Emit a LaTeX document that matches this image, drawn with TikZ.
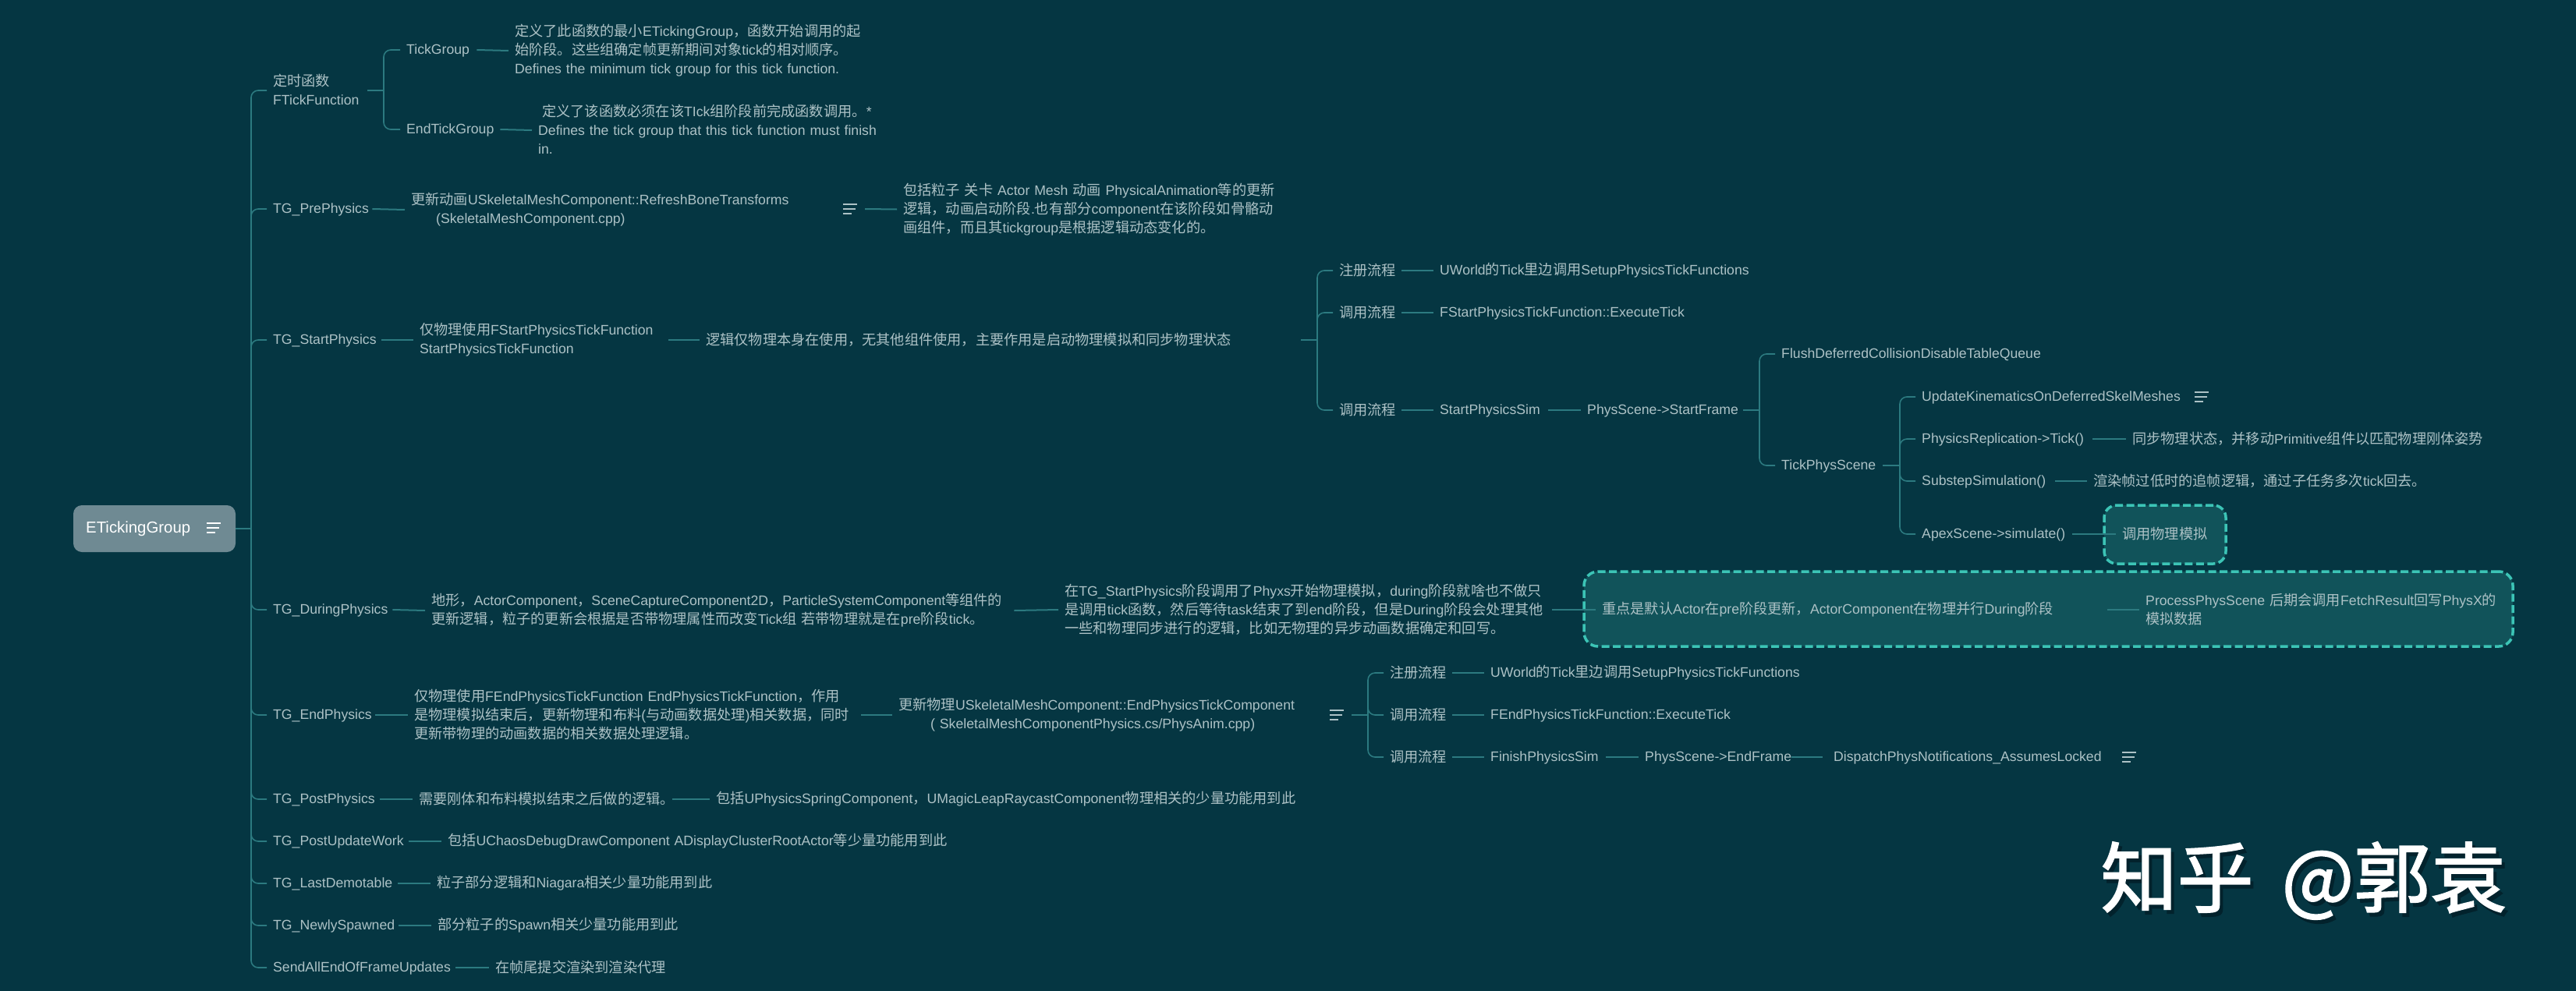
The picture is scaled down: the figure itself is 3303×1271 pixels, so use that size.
\documentclass[tikz,border=0pt]{standalone}
\usepackage{fontspec}
\setmainfont{Liberation Sans}[Scale=0.97]
\newfontfamily\cjkf{Noto Sans CJK SC}
\newfontfamily\latf{Liberation Sans}[Scale=0.97]
\newfontfamily\wmf{Noto Sans CJK SC}[FakeBold=1.8]
\newXeTeXintercharclass\cjkcls
\count255="4E00
\loop\XeTeXcharclass\count255=\cjkcls\ifnum\count255<"9FFF\advance\count255 by 1\repeat
\count255="3000
\loop\XeTeXcharclass\count255=\cjkcls\ifnum\count255<"303F\advance\count255 by 1\repeat
\count255="FF00
\loop\XeTeXcharclass\count255=\cjkcls\ifnum\count255<"FFEF\advance\count255 by 1\repeat
\XeTeXinterchartokenstate=1
\XeTeXinterchartoks 0 \cjkcls={\cjkf}
\XeTeXinterchartoks 4095 \cjkcls={\cjkf}
\XeTeXinterchartoks \cjkcls 0={\latf}
\XeTeXinterchartoks \cjkcls 4095={\latf}
\definecolor{bgc}{HTML}{053642}
\definecolor{linec}{HTML}{2C7A80}
\definecolor{txtc}{HTML}{ADC2C6}
\definecolor{boxf}{HTML}{11535A}
\definecolor{boxd}{HTML}{3CC4B6}
\definecolor{rootf}{HTML}{6F8A93}
\definecolor{wmsh}{HTML}{02222C}
\newcommand{\wmstyle}{\XeTeXinterchartokenstate=0 \fontsize{98}{100}\wmf}
\tikzset{
  txt/.style={anchor=west,inner xsep=8pt,inner ysep=0pt,align=left,text=txtc,font=\fontsize{18.2}{24}\selectfont},
  conn/.style={draw=linec,line width=2pt},
  branch/.style={draw=linec,line width=1.6pt,rounded corners=9pt},
  dashbox/.style={draw=boxd,fill=boxf,line width=3.5pt,dash pattern=on 10pt off 4.5pt,rounded corners=16pt,inner sep=0pt},
  rootbox/.style={fill=rootf,rounded corners=11pt,inner sep=0pt,minimum width=208pt,minimum height=60pt},
  iconbox/.style={inner sep=0pt,minimum width=38pt,minimum height=14pt},
  iconline/.style={draw=txtc,line width=2pt},
}
\newcommand{\tl}[1]{\mbox{\vrule width0pt height15pt depth2pt\relax #1}}
\newcommand{\nd}[6][]{\node[txt,text width=#5pt,#1] (#2) at ({#3-8},#4) {#6};}
\newcommand{\icn}[3][iconline]{\node[iconbox] (#2) at (#3) {};
  \draw[#1] ([xshift=10pt,yshift=6pt]#2.west) -- ++(18,0);
  \draw[#1] ([xshift=10pt]#2.west) -- ++(16,0);
  \draw[#1] ([xshift=10pt,yshift=-6pt]#2.west) -- ++(11,0);}
\newcommand{\wmt}[1]{\makebox[0pt][l]{\raisebox{-5pt}{\hspace{4pt}\textcolor{wmsh}{#1}}}#1}
\begin{document}
\begin{tikzpicture}[x=1pt,y=-1pt]
\useasboundingbox (0,0) rectangle (3303,1271);
\fill[bgc] (0,0) rectangle (3303,1271);
% dashed boxes
\node[dashbox,minimum width=156pt,minimum height=75pt] (apexbox) at (2776,685.5) {};
\node[dashbox,minimum width=1191pt,minimum height=96pt,rounded corners=18pt] (bigbox) at (2626.5,781) {};
% root
\node[rootbox] (root) at (198,678) {};
\node[anchor=west,inner sep=0pt,text=white,font=\fontsize{21}{24}\selectfont] (rootlabel) at (110,678) {\tl{ETickingGroup}};
\icn[iconline,draw=white]{rooticon}{274,677}
\coordinate (trunk) at (322,678);
% level 1
\nd{timer}{350}{116}{113}{\tl{定时函数}\\\tl{FTickFunction}}
\nd{pre}{350}{268}{119}{\tl{TG\_PrePhysics}}
\nd{start}{350}{436}{131}{\tl{TG\_StartPhysics}}
\nd{during}{350}{782}{145}{\tl{TG\_DuringPhysics}}
\nd{endp}{350}{917}{123}{\tl{TG\_EndPhysics}}
\nd{post}{350}{1025}{129}{\tl{TG\_PostPhysics}}
\nd{upd}{350}{1079}{166}{\tl{TG\_PostUpdateWork}}
\nd{last}{350}{1133}{152}{\tl{TG\_LastDemotable}}
\nd{newly}{350}{1187}{153}{\tl{TG\_NewlySpawned}}
\nd{send}{350}{1241}{226}{\tl{SendAllEndOfFrameUpdates}}
\draw[conn] (root.east) -- (trunk);
\foreach \c in {timer,pre,start,during,endp,post,upd,last,newly,send}{\draw[branch] (trunk) |- (\c.west);}
% timer
\coordinate (j1) at (492,116);
\nd{tick}{521}{64}{82}{\tl{TickGroup}}
\nd{endtick}{521}{166}{112}{\tl{EndTickGroup}}
\nd{tickd}{660}{65}{442}{\tl{定义了此函数的最小ETickingGroup，函数开始调用的起}\\\tl{始阶段。这些组确定帧更新期间对象tick的相对顺序。}\\\tl{Defines the minimum tick group for this tick function.}}
\nd{endtickd}{690}{167}{441}{\hspace*{5pt}\tl{定义了该函数必须在该TIck组阶段前完成函数调用。*}\\\tl{Defines the tick group that this tick function must finish}\\\tl{in.}}
\draw[conn] (timer.east) -- (j1);
\draw[branch] (j1) |- (tick.west);
\draw[branch] (j1) |- (endtick.west);
\draw[conn] (tick.east) -- (tickd.west);
\draw[conn] (endtick.east) -- (endtickd.west);
% pre
\nd{prea}{527}{269}{488}{\tl{更新动画USkeletalMeshComponent::RefreshBoneTransforms}\\\hspace*{32pt}\tl{(SkeletalMeshComponent.cpp)}}
\icn{preicon}{1090,268}
\nd{preb}{1158}{268.5}{474}{\tl{包括粒子 关卡 Actor Mesh 动画 PhysicalAnimation等的更新}\\\tl{逻辑，动画启动阶段.也有部分component在该阶段如骨骼动}\\\tl{画组件，而且其tickgroup是根据逻辑动态变化的。}}
\draw[conn] (pre.east) -- (prea.west);
\draw[conn] (preicon.east) -- (preb.west);
% start
\nd{starta}{538}{436}{311}{\tl{仅物理使用FStartPhysicsTickFunction}\\\tl{StartPhysicsTickFunction}}
\nd{startb}{905}{436}{755}{\tl{逻辑仅物理本身在使用，无其他组件使用，主要作用是启动物理模拟和同步物理状态}}
\coordinate (j2) at (1689,436);
\nd{reg}{1717}{347}{72}{\tl{注册流程}}
\nd{regb}{1846}{347}{402}{\tl{UWorld的Tick里边调用SetupPhysicsTickFunctions}}
\nd{calla}{1717}{401}{72}{\tl{调用流程}}
\nd{callab}{1846}{401}{320}{\tl{FStartPhysicsTickFunction::ExecuteTick}}
\nd{callb}{1717}{526}{72}{\tl{调用流程}}
\nd{sim}{1846}{526}{131}{\tl{StartPhysicsSim}}
\nd{frame}{2035}{526}{192}{\tl{PhysScene->StartFrame}}
\coordinate (j3) at (2256,526);
\nd{flush}{2284}{454}{335}{\tl{FlushDeferredCollisionDisableTableQueue}}
\nd{tps}{2284}{597}{122}{\tl{TickPhysScene}}
\coordinate (j4) at (2436,597);
\nd{kin}{2464}{509}{334}{\tl{UpdateKinematicsOnDeferredSkelMeshes}}
\icn{kinicon}{2823,509}
\nd{rep}{2464}{563}{211}{\tl{PhysicsReplication->Tick()}}
\nd{repb}{2734}{563}{448}{\tl{同步物理状态，并移动Primitive组件以匹配物理刚体姿势}}
\nd{sub}{2464}{617}{163}{\tl{SubstepSimulation()}}
\nd{subb}{2684}{617}{417}{\tl{渲染帧过低时的追帧逻辑，通过子任务多次tick回去。}}
\nd{apex}{2464}{685}{185}{\tl{ApexScene->simulate()}}
\nd{apexb}{2721}{685}{108}{\tl{调用物理模拟}}
\draw[conn] (start.east) -- (starta.west);
\draw[conn] (starta.east) -- (startb.west);
\draw[conn] (startb.east) -- (j2);
\foreach \c in {reg,calla,callb}{\draw[branch] (j2) |- (\c.west);}
\draw[conn] (reg.east) -- (regb.west);
\draw[conn] (calla.east) -- (callab.west);
\draw[conn] (callb.east) -- (sim.west);
\draw[conn] (sim.east) -- (frame.west);
\draw[conn] (frame.east) -- (j3);
\draw[branch] (j3) |- (flush.west);
\draw[branch] (j3) |- (tps.west);
\draw[conn] (tps.east) -- (j4);
\foreach \c in {kin,rep,sub,apex}{\draw[branch] (j4) |- (\c.west);}
\draw[conn] (rep.east) -- (repb.west);
\draw[conn] (sub.east) -- (subb.west);
\draw[conn] (apex.east) -- (apexb.west);
% during
\nd{duringa}{553}{783}{739}{\tl{地形，ActorComponent，SceneCaptureComponent2D，ParticleSystemComponent等组件的}\\\tl{更新逻辑，粒子的更新会根据是否带物理属性而改变Tick组 若带物理就是在pre阶段tick。}}
\nd{duringb}{1365}{782}{617}{\tl{在TG\_StartPhysics阶段调用了Phyxs开始物理模拟，during阶段就啥也不做只}\\\tl{是调用tick函数，然后等待task结束了到end阶段，但是During阶段会处理其他}\\\tl{一些和物理同步进行的逻辑，比如无物理的异步动画数据确定和回写。}}
\nd{biga}{2054}{782}{640}{\tl{重点是默认Actor在pre阶段更新，ActorComponent在物理并行During阶段}}
\nd{bigb}{2751}{782}{446}{\tl{ProcessPhysScene 后期会调用FetchResult回写PhysX的}\\\tl{模拟数据}}
\draw[conn] (during.east) -- (duringa.west);
\draw[conn] (duringa.east) -- (duringb.west);
\draw[conn] (duringb.east) -- (biga.west);
\draw[conn] (biga.east) -- (bigb.west);
% end
\nd{enda}{531}{917}{565}{\tl{仅物理使用FEndPhysicsTickFunction EndPhysicsTickFunction，作用}\\\tl{是物理模拟结束后，更新物理和布料(与动画数据处理)相关数据，同时}\\\tl{更新带物理的动画数据的相关数据处理逻辑。}}
\nd{endb}{1152}{917}{513}{\tl{更新物理USkeletalMeshComponent::EndPhysicsTickComponent}\\\hspace*{41pt}\tl{( SkeletalMeshComponentPhysics.cs/PhysAnim.cpp)}}
\icn{endicon}{1714,917}
\coordinate (j5) at (1754,917);
\nd{ereg}{1782}{863}{72}{\tl{注册流程}}
\nd{eregb}{1911}{863}{402}{\tl{UWorld的Tick里边调用SetupPhysicsTickFunctions}}
\nd{ecalla}{1782}{917}{72}{\tl{调用流程}}
\nd{ecallab}{1911}{917}{311}{\tl{FEndPhysicsTickFunction::ExecuteTick}}
\nd{ecallb}{1782}{971}{72}{\tl{调用流程}}
\nd{fin}{1911}{971}{140}{\tl{FinishPhysicsSim}}
\nd{eframe}{2109}{971}{180}{\tl{PhysScene->EndFrame}}
\nd{disp}{2351}{971}{352}{\tl{DispatchPhysNotifications\_AssumesLocked}}
\icn{dispicon}{2730,971}
\draw[conn] (endp.east) -- (enda.west);
\draw[conn] (enda.east) -- (endb.west);
\draw[conn] (endicon.east) -- (j5);
\foreach \c in {ereg,ecalla,ecallb}{\draw[branch] (j5) |- (\c.west);}
\draw[conn] (ereg.east) -- (eregb.west);
\draw[conn] (ecalla.east) -- (ecallab.west);
\draw[conn] (ecallb.east) -- (fin.west);
\draw[conn] (fin.east) -- (eframe.west);
\draw[conn,shorten >=6pt] (eframe.east) -- (disp.west);
% tail
\nd{posta}{537}{1025}{317}{\tl{需要刚体和布料模拟结束之后做的逻辑。}}
\nd{postb}{918}{1025}{746}{\tl{包括UPhysicsSpringComponent，UMagicLeapRaycastComponent物理相关的少量功能用到此}}
\nd{upda}{574}{1079}{639}{\tl{包括UChaosDebugDrawComponent ADisplayClusterRootActor等少量功能用到此}}
\nd{lasta}{560}{1133}{350}{\tl{粒子部分逻辑和Niagara相关少量功能用到此}}
\nd{newlya}{561}{1187}{306}{\tl{部分粒子的Spawn相关少量功能用到此}}
\nd{senda}{635}{1241}{216}{\tl{在帧尾提交渲染到渲染代理}}
\draw[conn] (post.east) -- (posta.west);
\draw[conn] (posta.east) -- (postb.west);
\draw[conn] (upd.east) -- (upda.west);
\draw[conn] (last.east) -- (lasta.west);
\draw[conn] (newly.east) -- (newlya.west);
\draw[conn] (send.east) -- (senda.west);
% watermark
\node[inner sep=0pt,text=white,font=\wmstyle] (wm) at (2954,1132) {\wmt{知乎\hspace{36pt}@郭袁}};
\end{tikzpicture}
\end{document}
